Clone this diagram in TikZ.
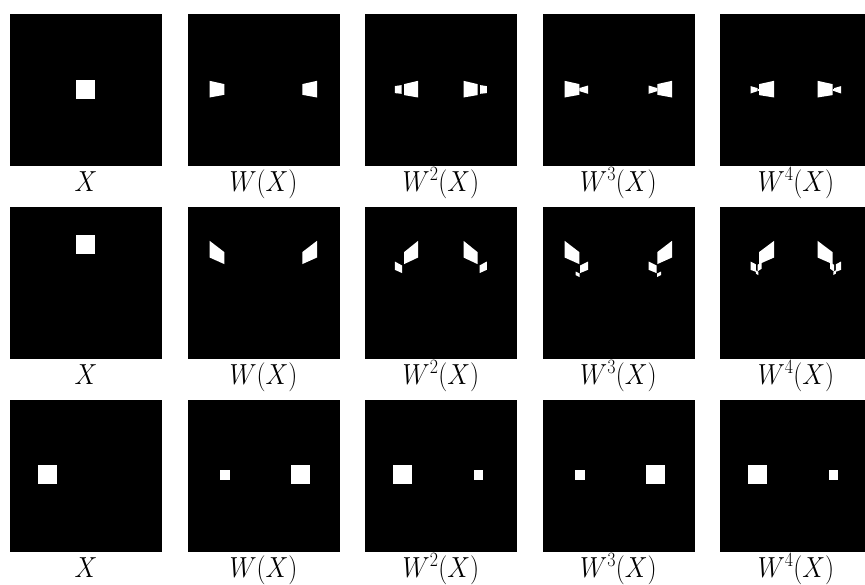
\documentclass[tikz,border=0pt]{standalone}
\usepackage{fix-cm}
\usepackage{amsmath}
\usepackage{tikz}

% draws a left half in a panel and its mirror image
\newcommand{\bothsides}[2]{%
    \begin{scope}[shift={(#1.north west)}]
        #2
        \begin{scope}[xshift=152pt, xscale=-1]
            #2
        \end{scope}
    \end{scope}}
\newcommand{\inpanel}[2]{%
    \begin{scope}[shift={(#1.north west)}]
        #2
    \end{scope}}
% slightly narrow label text
\newcommand{\lb}[1]{\scalebox{0.88}[1]{$#1$}}

\begin{document}
\begin{tikzpicture}[x=1pt, y=-1pt, node distance=177.5pt]
    \tikzstyle{panel} = [fill=black, minimum size=152pt, inner sep=0pt]
    \tikzstyle{blob} = [fill=white]
    \tikzstyle{lab} = [font=\fontsize{29}{33}\selectfont, text height=21.75pt,
	text depth=7.25pt, inner sep=0pt, node distance=93.75pt]
	\path[use as bounding box, clip] (0,0) rectangle (865,584);
	% square in the middle
	\begin{scope}
		\path
			node[panel] (A0) at (86,90) {}
			node[panel, right of=A0] (A1) {}
			node[panel, right of=A1] (A2) {}
			node[panel, right of=A2] (A3) {}
			node[panel, right of=A3] (A4) {}

			node[lab, below of=A0] (a0) {\lb{X}}
			node[lab, below of=A1] (a1) {\lb{W(X)}}
			node[lab, below of=A2] (a2) {\lb{W^2(X)}}
			node[lab, below of=A3] (a3) {\lb{W^3(X)}}
			node[lab, below of=A4] (a4) {\lb{W^4(X)}}
		;
		\inpanel{A0}{\fill[blob] (66,66) rectangle (85.3,85.3);}
		\bothsides{A1}{\fill[blob] (22.3,67) -- (37,70.3) -- (37,81) -- (22.3,83.7) -- cycle;}
		\bothsides{A2}{
			\fill[blob] (30,72.3) -- (36.7,71.3) -- (36.7,80) -- (30,79.3) -- cycle;
			\fill[blob] (39.3,70.3) -- (53.3,67) -- (53.3,83.7) -- (39.3,81.3) -- cycle;}
		\bothsides{A3}{
			\fill[blob] (22.3,67) -- (37,70.3) -- (37,81) -- (22.3,83.7) -- cycle;
			\fill[blob] (37,74.3) -- (45.7,71.7) -- (45.7,80) -- (37,77.3) -- cycle;}
		\bothsides{A4}{
			\fill[blob] (30.7,72.3) -- (37.7,74.3) -- (37.7,77.3) -- (30.7,79.7) -- cycle;
			\fill[blob] (37.7,75) rectangle (39.3,76.7);
			\fill[blob] (39.3,70.3) -- (54.3,67) -- (54.3,83.7) -- (39.3,81.3) -- cycle;}
	\end{scope}
	% square near the top
	\begin{scope}
		\path
			node[panel] (B0) at (86,283) {}
			node[panel, right of=B0] (B1) {}
			node[panel, right of=B1] (B2) {}
			node[panel, right of=B2] (B3) {}
			node[panel, right of=B3] (B4) {}

			node[lab, below of=B0] (b0) {\lb{X}}
			node[lab, below of=B1] (b1) {\lb{W(X)}}
			node[lab, below of=B2] (b2) {\lb{W^2(X)}}
			node[lab, below of=B3] (b3) {\lb{W^3(X)}}
			node[lab, below of=B4] (b4) {\lb{W^4(X)}}
		;
		\inpanel{B0}{\fill[blob] (66,28) rectangle (85.3,47.3);}
		\bothsides{B1}{\fill[blob] (22.3,34) -- (37,45.3) -- (37,57.3) -- (22.3,50.7) -- cycle;}
		\bothsides{B2}{
			\fill[blob] (39.3,45.3) -- (53.3,34) -- (53.3,50.7) -- (39.3,57.3) -- cycle;
			\fill[blob] (30,54.7) -- (37.3,58.7) -- (37.3,66.3) -- (30,63) -- cycle;}
		\bothsides{B3}{
			\fill[blob] (22.3,34) -- (37,45.3) -- (37,57.3) -- (22.3,50.7) -- cycle;
			\fill[blob] (37.7,58.7) -- (45.7,54.7) -- (45.7,63) -- (37.7,66.3) -- cycle;
			\fill[blob] (33.3,64.7) -- (37.3,66.7) -- (37.3,70.3) -- (33.3,68.3) -- cycle;}
		\bothsides{B4}{
			\fill[blob] (39.3,45.3) -- (54.3,34) -- (54.3,50.7) -- (39.3,57.3) -- cycle;
			\fill[blob] (30.7,54.7) -- (36,57.5) -- (36,65) -- (30.7,63) -- cycle;
			\fill[blob] (37.7,58) -- (41.7,55.7) -- (41.7,62) -- (37.7,64.7) -- cycle;
			\fill[blob] (36,63.5) -- (38.5,65) -- (38.5,68.3) -- (36,66.8) -- cycle;}
	\end{scope}
	% square on the left
	\begin{scope}
		\path
			node[panel] (C0) at (86,476) {}
			node[panel, right of=C0] (C1) {}
			node[panel, right of=C1] (C2) {}
			node[panel, right of=C2] (C3) {}
			node[panel, right of=C3] (C4) {}

			node[lab, below of=C0] (c0) {\lb{X}}
			node[lab, below of=C1] (c1) {\lb{W(X)}}
			node[lab, below of=C2] (c2) {\lb{W^2(X)}}
			node[lab, below of=C3] (c3) {\lb{W^3(X)}}
			node[lab, below of=C4] (c4) {\lb{W^4(X)}}
		;
		\inpanel{C0}{\fill[blob] (28.3,65.3) rectangle (47.3,84.3);}
		\inpanel{C1}{
			\fill[blob] (33,70.3) rectangle (42.3,79.7);
			\fill[blob] (104,65.3) rectangle (123,84.3);}
		\inpanel{C2}{
			\fill[blob] (28,65.3) rectangle (47,84.3);
			\fill[blob] (108.7,70.5) rectangle (118.3,79.8);}
		\inpanel{C3}{
			\fill[blob] (33,70.3) rectangle (42.3,79.7);
			\fill[blob] (104,65.3) rectangle (123,84.3);}
		\inpanel{C4}{
			\fill[blob] (28,65.3) rectangle (47,84.3);
			\fill[blob] (108.7,70.5) rectangle (118.3,79.8);}
	\end{scope}
\end{tikzpicture}
\end{document}
